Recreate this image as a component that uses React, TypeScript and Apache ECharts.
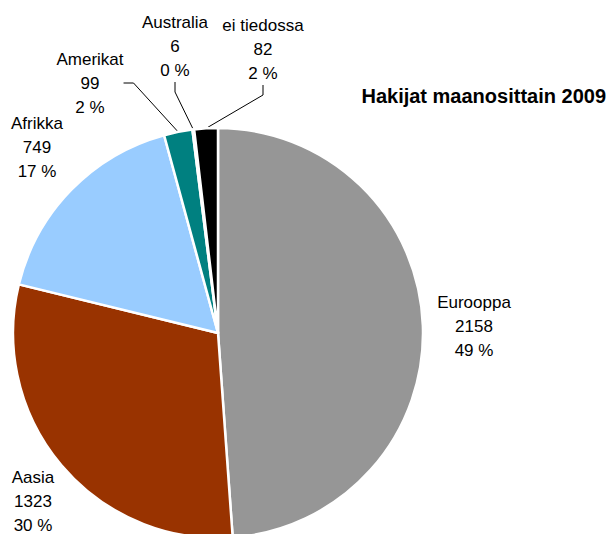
import React, { useEffect, useRef } from "react";
import * as echarts from "echarts";

const categories = ["Eurooppa", "Aasia", "Afrikka", "Amerikat", "Australia", "ei tiedossa"];
const values = [2158, 1323, 749, 99, 6, 82];
const colors = ["#969696", "#993300", "#99CCFF", "#008080", "#00A0A0", "#000000"];
const labelPos: [number, number][] = [
  [474, 326],
  [33, 501],
  [37, 147],
  [90, 83],
  [175, 46],
  [263, 49],
];
const showLine = [false, false, false, true, true, true];
const title = "Hakijat maanosittain 2009";

export default function App() {
  const ref = useRef<HTMLDivElement>(null);
  useEffect(() => {
    if (!ref.current) return;
    const chart = echarts.init(ref.current, null, { renderer: "svg" });
    const total = values.reduce((a, b) => a + b, 0);
    const font = "'Liberation Sans', Arial, sans-serif";
    chart.setOption({
      animation: false,
      title: {
        text: title,
        right: 4,
        top: 81,
        textStyle: { fontFamily: font, fontSize: 20, fontWeight: "bold", color: "#000" },
      },
      series: [
        {
          type: "pie",
          center: [218, 333],
          radius: 205,
          startAngle: 90,
          clockwise: true,
          avoidLabelOverlap: false,
          itemStyle: { borderColor: "#fff", borderWidth: 2.5 },
          label: {
            show: true,
            position: "outside",
            fontFamily: font,
            fontSize: 17,
            lineHeight: 24,
            color: "#000",
            align: "center",
            formatter: (p: any) =>
              `${p.name}\n${p.value}\n${Math.round((p.value / total) * 100)} %`,
          },
          labelLine: {
            show: true,
            length: 20,
            length2: 10,
            lineStyle: { color: "#000", width: 1 },
          },
          labelLayout: (p: any) => {
            const [x, y] = labelPos[p.dataIndex];
            return { x, y, align: "center", verticalAlign: "middle" };
          },
          data: categories.map((name, i) => ({
            name,
            value: values[i],
            itemStyle: { color: colors[i] },
            labelLine: { show: showLine[i] },
          })),
        },
      ],
    });
    return () => chart.dispose();
  }, []);
  return (
    <div
      ref={ref}
      style={{ position: "fixed", left: 0, top: 0, width: 615, height: 534, background: "#fff" }}
    />
  );
}
